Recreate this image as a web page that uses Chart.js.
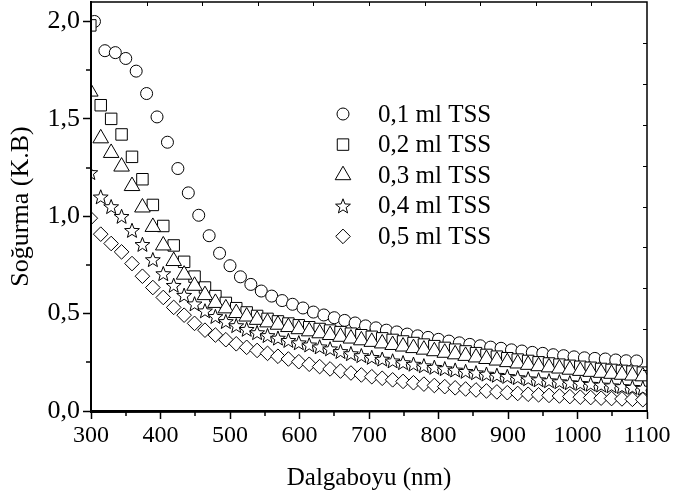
<!DOCTYPE html>
<html><head><meta charset="utf-8">
<script src="https://cdn.jsdelivr.net/npm/chart.js@4.4.0/dist/chart.umd.min.js"></script>
<style>html,body{margin:0;padding:0;background:#fff}#wrap{width:676px;height:500px}</style>
</head><body><div id="wrap"><canvas id="c" width="676" height="500"></canvas></div>
<script>
// ---------- data ----------
const seriesLabels = ['0,1 ml TSS', '0,2 ml TSS', '0,3 ml TSS', '0,4 ml TSS', '0,5 ml TSS'];
const wlCircle = [305,320,335,350,365,380,395,410,425,440,455,470,485,500,515,530,545,560,575,590,605,620,635,650,665,680,695,710,725,740,755,770,785,800,815,830,845,860,875,890,905,920,935,950,965,980,995,1010,1025,1040,1055,1070,1085];
const abs01 = [2.00,1.85,1.84,1.81,1.745,1.63,1.51,1.38,1.245,1.12,1.005,0.90,0.81,0.746,0.689,0.65,0.616,0.59,0.567,0.548,0.529,0.508,0.493,0.479,0.465,0.452,0.437,0.427,0.415,0.406,0.395,0.386,0.378,0.368,0.359,0.35,0.342,0.335,0.328,0.322,0.314,0.308,0.301,0.296,0.289,0.284,0.278,0.273,0.270,0.267,0.262,0.258,0.257];
const wlOther = [299,314,329,344,359,374,389,404,419,434,449,464,479,494,509,524,539,554,569,584,599,614,629,644,659,674,689,704,719,734,749,764,779,794,809,824,839,854,869,884,899,914,929,944,959,974,989,1004,1019,1034,1049,1064,1079,1094];
const abs02 = [1.98,1.57,1.50,1.42,1.305,1.19,1.058,0.95,0.85,0.766,0.69,0.634,0.59,0.555,0.528,0.506,0.488,0.473,0.46,0.449,0.44,0.43,0.421,0.413,0.405,0.397,0.389,0.381,0.373,0.365,0.357,0.349,0.341,0.333,0.324,0.315,0.306,0.297,0.288,0.279,0.271,0.264,0.257,0.25,0.244,0.238,0.232,0.227,0.222,0.216,0.211,0.206,0.202,0.197];
const abs03 = [1.64,1.40,1.325,1.255,1.155,1.045,0.945,0.85,0.77,0.70,0.643,0.595,0.555,0.527,0.503,0.485,0.468,0.455,0.443,0.431,0.42,0.409,0.399,0.39,0.381,0.372,0.363,0.355,0.347,0.339,0.331,0.323,0.315,0.307,0.299,0.291,0.283,0.275,0.267,0.259,0.251,0.244,0.237,0.23,0.224,0.218,0.212,0.206,0.201,0.196,0.191,0.186,0.182,0.178];
const abs04 = [1.225,1.10,1.05,1.0,0.928,0.856,0.778,0.706,0.646,0.595,0.551,0.515,0.486,0.46,0.439,0.42,0.403,0.388,0.375,0.363,0.351,0.34,0.33,0.32,0.306,0.295,0.285,0.276,0.267,0.258,0.249,0.241,0.233,0.225,0.218,0.211,0.204,0.197,0.19,0.184,0.178,0.172,0.166,0.161,0.156,0.151,0.146,0.142,0.138,0.134,0.13,0.126,0.122,0.118];
const abs05 = [0.99,0.908,0.86,0.817,0.757,0.692,0.634,0.583,0.532,0.492,0.45,0.415,0.39,0.366,0.345,0.327,0.311,0.296,0.281,0.267,0.253,0.24,0.228,0.216,0.205,0.195,0.185,0.176,0.168,0.16,0.152,0.145,0.138,0.131,0.125,0.119,0.113,0.108,0.103,0.098,0.094,0.09,0.086,0.083,0.08,0.077,0.074,0.071,0.069,0.066,0.064,0.062,0.06,0.058];
const xMajorTicks = [300,400,500,600,700,800,900,1000,1100];
const xMinorTicks = [350,450,550,650,750,850,950,1050];
const yMajorTicks = [0,0.5,1.0,1.5,2.0];
const yMinorTicks = [0.25,0.75,1.25,1.75];
const xTopTicks = [380,460,540,620,700,780,860,940,1020];
const yRightTicks = [0.21,0.42,0.63,0.84,1.05,1.26,1.47,1.68,1.89];

// ---------- styles ----------
const FONT = "'Liberation Serif','Times New Roman',serif";
const STAR_R = 7.8, STAR_r = 3.3, STAR_INDEX = 3;
function starPath(ctx, cx, cy) {
  ctx.beginPath();
  for (let i = 0; i < 10; i++) {
    const rad = (i % 2 === 0) ? STAR_R : STAR_r;
    const a = -Math.PI / 2 + i * Math.PI / 5;
    const px = cx + rad * Math.cos(a), py = cy + 0.8 + rad * Math.sin(a);
    if (i === 0) ctx.moveTo(px, py); else ctx.lineTo(px, py);
  }
  ctx.closePath();
}
function drawStar(ctx, cx, cy) {
  starPath(ctx, cx, cy);
  ctx.fillStyle = '#fff'; ctx.fill();
  ctx.lineWidth = 1; ctx.strokeStyle = '#000'; ctx.stroke();
}
const styles = [
  {pointStyle: 'circle', radius: 6},
  {pointStyle: 'rect', radius: 8.1},
  {pointStyle: 'triangle', radius: 9.0},
  {pointStyle: 'star', radius: 0},
  {pointStyle: 'rectRot', radius: 7.3}
];
const seriesX = [wlCircle, wlOther, wlOther, wlOther, wlOther];
const seriesY = [abs01, abs02, abs03, abs04, abs05];

const datasets = seriesLabels.map((lab, i) => ({
  label: lab,
  data: seriesX[i].map((x, k) => ({x: x, y: seriesY[i][k]})),
  pointStyle: styles[i].pointStyle,
  pointRadius: styles[i].radius,
  pointBackgroundColor: '#fff',
  pointBorderColor: '#000',
  pointBorderWidth: i === STAR_INDEX ? 0 : 1,
  showLine: false,
  clip: 0,
  order: 4 - i
}));

function fmt(v) { return v.toFixed(1).replace('.', ','); }

// star markers: drawn at the positions the library computed for the 0,4 ml dataset
const starMarks = {
  id: 'starMarks',
  afterDatasetDraw(chart, args) {
    if (args.index !== STAR_INDEX) return;
    const ctx = chart.ctx, a = chart.chartArea;
    ctx.save();
    ctx.beginPath(); ctx.rect(a.left, a.top, a.right - a.left, a.bottom - a.top); ctx.clip();
    args.meta.data.forEach(el => drawStar(ctx, el.x, el.y));
    ctx.restore();
  }
};

const decor = {
  id: 'decor',
  afterDraw(chart) {
    const ctx = chart.ctx, a = chart.chartArea;
    const xs = chart.scales.x, ys = chart.scales.y;
    ctx.save();
    ctx.strokeStyle = '#000';
    ctx.lineWidth = 1.5;
    ctx.beginPath();
    ctx.moveTo(a.left, a.top); ctx.lineTo(a.right, a.top); ctx.lineTo(a.right, a.bottom);
    ctx.stroke();
    ctx.lineWidth = 2;
    ctx.beginPath();
    ctx.moveTo(a.left, a.top); ctx.lineTo(a.left, a.bottom + 1); ctx.lineTo(a.right + 1, a.bottom);
    ctx.stroke();
    ctx.lineWidth = 1.5;
    ctx.beginPath();
    xMinorTicks.forEach(v => { const p = Math.round(xs.getPixelForValue(v)); ctx.moveTo(p, a.bottom); ctx.lineTo(p, a.bottom + 5); });
    yMinorTicks.forEach(v => { const p = Math.round(ys.getPixelForValue(v)); ctx.moveTo(a.left, p); ctx.lineTo(a.left - 5, p); });
    ctx.stroke();
    ctx.lineWidth = 1;
    ctx.beginPath();
    xTopTicks.forEach(v => { const p = Math.round(xs.getPixelForValue(v)) + 0.5; ctx.moveTo(p, a.top); ctx.lineTo(p, a.top + 4); });
    yRightTicks.forEach(v => { const p = Math.round(ys.getPixelForValue(v)) + 0.5; ctx.moveTo(a.right, p); ctx.lineTo(a.right - 4, p); });
    ctx.stroke();
    // legend
    const lx = 343, tx = 378, ly0 = 114, dy = 30.6;
    ctx.font = '25px ' + FONT;
    ctx.textBaseline = 'middle';
    ctx.textAlign = 'left';
    seriesLabels.forEach((lab, i) => {
      const y = ly0 + i * dy;
      ctx.fillStyle = '#fff'; ctx.strokeStyle = '#000'; ctx.lineWidth = 1;
      if (i === STAR_INDEX) {
        drawStar(ctx, lx, y);
      } else {
        Chart.helpers.drawPoint(ctx, {pointStyle: styles[i].pointStyle, radius: styles[i].radius, rotation: 0, borderWidth: 1}, lx, y);
      }
      ctx.fillStyle = '#000';
      ctx.fillText(lab, tx, y + 1);
    });
    ctx.restore();
  }
};

new Chart(document.getElementById('c'), {
  type: 'scatter',
  data: {datasets: datasets},
  options: {
    responsive: false,
    animation: false,
    devicePixelRatio: 1,
    layout: {autoPadding: false, padding: {top: 2, right: 29, left: 0, bottom: 0}},
    plugins: {legend: {display: false}, tooltip: {enabled: false}},
    scales: {
      x: {
        type: 'linear', min: 300, max: 1100,
        afterBuildTicks: s => { s.ticks = xMajorTicks.map(v => ({value: v})); },
        afterFit: s => { s.height = 89; s.paddingLeft = 0; s.paddingRight = 0; },
        ticks: {color: '#000', font: {family: FONT, size: 24}, padding: 2, maxRotation: 0, autoSkip: false, callback: v => String(v)},
        grid: {display: true, drawOnChartArea: false, drawTicks: true, tickLength: 8, tickWidth: 1.5, tickColor: '#000'},
        border: {display: true, color: '#000', width: 2},
        title: {display: true, text: 'Dalgaboyu (nm)', color: '#000', font: {family: FONT, size: 25}, padding: {top: 0, bottom: 7}}
      },
      y: {
        type: 'linear', min: 0, max: 2.1,
        afterBuildTicks: s => { s.ticks = yMajorTicks.map(v => ({value: v})); },
        afterFit: s => { s.width = 91; s.paddingTop = 0; s.paddingBottom = 0; },
        ticks: {color: '#000', font: {family: FONT, size: 26}, padding: 3, callback: v => fmt(v), autoSkip: false},
        grid: {display: true, drawOnChartArea: false, drawTicks: true, tickLength: 8, tickWidth: 1.5, tickColor: '#000'},
        border: {display: true, color: '#000', width: 2},
        title: {display: true, text: 'Soğurma (K.B)', color: '#000', font: {family: FONT, size: 26}, padding: {top: 6, bottom: 0}}
      }
    }
  },
  plugins: [starMarks, decor]
});
</script></body></html>
